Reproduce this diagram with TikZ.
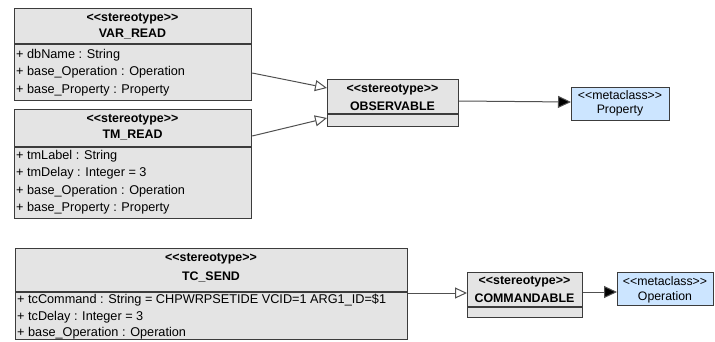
\documentclass[tikz,border=0pt]{standalone}
\usepackage{fontspec}
\setmainfont{Liberation Sans}
\usetikzlibrary{arrows.meta,calc}
\definecolor{boxgrey}{HTML}{E4E4E4}
\definecolor{boxblue}{HTML}{CCE5FF}
\definecolor{edgecol}{HTML}{3C3C3C}
\definecolor{linegrey}{HTML}{505050}
\newcommand\llsym{<\kern0pt<}
\newcommand\ggsym{>\kern0pt>}
\begin{document}
\begin{tikzpicture}[x=1pt,y=-1pt,
  stereobox/.style={draw=edgecol,line width=1.2pt,fill=boxgrey,inner sep=0,anchor=north west},
  metabox/.style={draw=edgecol,line width=1.2pt,fill=boxblue,inner sep=0,anchor=north west},
  sepline/.style={draw=edgecol,line width=1.2pt},
  stxt/.style={font=\bfseries\fontsize{12.4}{14}\selectfont,inner sep=0},
  atxt/.style={font=\fontsize{12.7}{14}\selectfont,anchor=west,inner sep=0},
  mtxt/.style={font=\fontsize{12.3}{14}\selectfont,inner sep=0},
  gen/.style={draw=linegrey,line width=1pt,-{Triangle[open,length=12pt,width=11pt]}},
  ext/.style={draw=linegrey,line width=1pt,-{Triangle[length=13pt,width=12pt,fill=black]}},
]
\useasboundingbox (0,0) rectangle (715,341);

% VAR_READ
\node[stereobox,minimum width=237pt,minimum height=92pt] (var) at (14,8) {};
\draw[sepline] ($(var.north west)+(0,36)$) -- ($(var.north east)+(0,36)$);
\node[stxt] (varst) at (132.5,19) {\llsym stereotype\ggsym};
\node[stxt] (varnm) at (132.5,34) {VAR\_READ};
\node[atxt] (va1) at (16,55) {+ dbName : String};
\node[atxt] (va2) at (16,72) {+ base\_Operation : Operation};
\node[atxt] (va3) at (16,90) {+ base\_Property : Property};

% TM_READ
\node[stereobox,minimum width=237pt,minimum height=109pt] (tm) at (14,109) {};
\draw[sepline] ($(tm.north west)+(0,38)$) -- ($(tm.north east)+(0,38)$);
\node[stxt] (tmst) at (132.5,120) {\llsym stereotype\ggsym};
\node[stxt] (tmnm) at (132.5,135) {TM\_READ};
\node[atxt] (ta1) at (16,156) {+ tmLabel : String};
\node[atxt] (ta2) at (16,173) {+ tmDelay : Integer = 3};
\node[atxt] (ta3) at (16,191) {+ base\_Operation : Operation};
\node[atxt] (ta4) at (16,208) {+ base\_Property : Property};

% OBSERVABLE
\node[stereobox,minimum width=131pt,minimum height=47pt] (obs) at (327,79) {};
\draw[sepline] ($(obs.north west)+(0,35)$) -- ($(obs.north east)+(0,35)$);
\node[stxt] (obsst) at (392.5,90) {\llsym stereotype\ggsym};
\node[stxt] (obsnm) at (392.5,106) {OBSERVABLE};

% Property
\node[metabox,minimum width=98pt,minimum height=33pt] (prop) at (571,87) {};
\node[mtxt] (propst) at (620,95) {\llsym metaclass\ggsym};
\node[mtxt] (propnm) at (620,111) {Property};

% TC_SEND
\node[stereobox,minimum width=392pt,minimum height=91pt] (tc) at (15,248) {};
\draw[sepline] ($(tc.north west)+(0,44)$) -- ($(tc.north east)+(0,44)$);
\node[stxt] (tcst) at (211,259) {\llsym stereotype\ggsym};
\node[stxt] (tcnm) at (211,277) {TC\_SEND};
\node[atxt] (tc1) at (17,300) {+ tcCommand : String = CHPWRPSETIDE VCID=1 ARG1\_ID=\$1};
\node[atxt] (tc2) at (17,317) {+ tcDelay : Integer = 3};
\node[atxt] (tc3) at (17,333) {+ base\_Operation : Operation};

% COMMANDABLE
\node[stereobox,minimum width=115pt,minimum height=45pt] (cmd) at (467,272) {};
\draw[sepline] ($(cmd.north west)+(0,35)$) -- ($(cmd.north east)+(0,35)$);
\node[stxt] (cmdst) at (524.5,282) {\llsym stereotype\ggsym};
\node[stxt] (cmdnm) at (524.5,298) {COMMANDABLE};

% Operation
\node[metabox,minimum width=96pt,minimum height=33pt] (op) at (617,272) {};
\node[mtxt] (opst) at (665,281) {\llsym metaclass\ggsym};
\node[mtxt] (opnm) at (665,297) {Operation};

% connectors
\draw[gen] ($(var.north east)+(0,65)$) -- ($(obs.north west)+(0,9)$);
\draw[gen] ($(tm.north east)+(0,27)$) -- ($(obs.north west)+(0,39)$);
\draw[ext] ($(obs.north east)+(0,22)$) -- ($(prop.north west)+(0,15)$);
\draw[gen] ($(tc.north east)+(0,45)$) -- ($(cmd.north west)+(0,21)$);
\draw[ext] ($(cmd.north east)+(0,20)$) -- ($(op.north west)+(0,20)$);
\end{tikzpicture}
\end{document}
